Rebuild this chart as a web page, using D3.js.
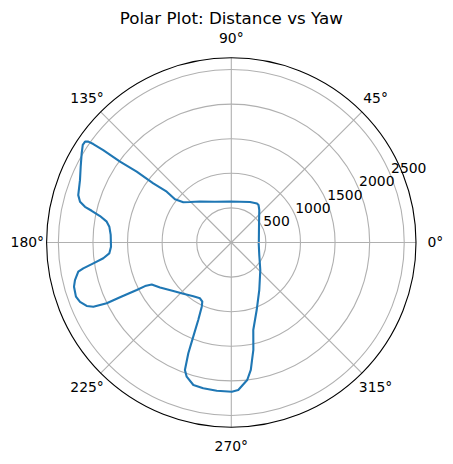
<!DOCTYPE html>
<html>
<head>
<meta charset="utf-8">
<script src="https://cdn.jsdelivr.net/npm/d3@7"></script>
<style>
  body { margin: 0; background: #fff; }
  svg text { font-family: "DejaVu Sans", sans-serif; }
</style>
</head>
<body>
<div id="chart"></div>
<script>
// yaw in degrees, distance in mm
let yaw = [1.0, 32.3, 49.3, 54.0, 56.6, 65.2, 78.0, 91.8, 111.8, 127.4, 135.6, 140.0,
  142.5, 141.8, 142.8, 143.2, 144.0, 144.2, 144.5, 144.8, 145.4, 146.7, 149.2, 153.3,
  157.6, 162.8, 164.9, 166.3, 167.2, 168.6, 170.5, 172.6, 176.4, 182.0, 185.1, 187.0,
  188.6, 189.9, 190.8, 193.5, 195.7, 199.2, 201.4, 203.7, 205.0, 206.0, 206.2, 206.7,
  206.8, 207.8, 212.3, 219.9, 226.9, 234.8, 240.7, 243.9, 245.3, 246.9, 248.0, 248.8,
  250.0, 251.6, 255.1, 259.1, 264.4, 270.2, 272.7, 276.6, 278.7, 280.0, 281.6, 284.1,
  290.6, 300.5, 316.5, 335.9, 359.0];
let distance = [398, 474, 620, 670, 675, 645, 603, 593, 635, 746, 836, 906,
  1026, 1188, 1416, 1708, 1988, 2283, 2451, 2529, 2568, 2569, 2518, 2437,
  2366, 2316, 2265, 2177, 2070, 1936, 1826, 1778, 1747, 1740, 1771, 1864,
  2017, 2172, 2252, 2324, 2362, 2378, 2349, 2283, 2200, 2004, 1793, 1530,
  1397, 1301, 1219, 1093, 1015, 952, 925, 953, 1022, 1218, 1468, 1718,
  1961, 2044, 2132, 2146, 2153, 2157, 2135, 2001, 1864, 1725, 1586, 1304,
  1043, 797, 578, 443, 396];

let rTicks = [500, 1000, 1500, 2000, 2500];
let thetaTicks = [0, 45, 90, 135, 180, 225, 270, 315];

let width = 453, height = 464;
let cx = 231.3, cy = 242.5, radius = 184.7;
let rad = Math.PI / 180;

let svg = d3.select("#chart")
    .append("svg")
    .attr("width", width)
    .attr("height", height);

svg.append("text")
    .attr("x", cx)
    .attr("y", 24)
    .style("text-anchor", "middle")
    .style("font-size", "16.7px")
    .text("Polar Plot: Distance vs Yaw");

let g = svg.append("g")
    .attr("transform", `translate(${cx},${cy})`);

let r = d3.scaleLinear()
    .domain([0, 2670])
    .range([0, radius]);

// circular grid
g.selectAll(".rgrid")
    .data(rTicks)
    .enter()
    .append("circle")
    .attr("r", d => r(d))
    .attr("fill", "none")
    .attr("stroke", "#b0b0b0")
    .attr("stroke-width", 1.1);

// spokes
g.selectAll(".tgrid")
    .data(thetaTicks)
    .enter()
    .append("line")
    .attr("x1", 0)
    .attr("y1", 0)
    .attr("x2", d => radius * Math.cos(d * rad))
    .attr("y2", d => -radius * Math.sin(d * rad))
    .attr("stroke", "#b0b0b0")
    .attr("stroke-width", 1.1);

// angle labels
g.selectAll(".tlabel")
    .data(thetaTicks)
    .enter()
    .append("text")
    .attr("x", d => 204 * Math.cos(d * rad))
    .attr("y", d => -204 * Math.sin(d * rad))
    .attr("dy", "0.35em")
    .style("text-anchor", "middle")
    .style("font-size", "13.9px")
    .text(d => d + "°");

// radial labels at 22.5 deg
g.selectAll(".rlabel")
    .data(rTicks)
    .enter()
    .append("text")
    .attr("x", d => r(d) * Math.cos(22.5 * rad))
    .attr("y", d => -r(d) * Math.sin(22.5 * rad) - 3.3)
    .style("text-anchor", "start")
    .style("font-size", "13.9px")
    .text(d => d);

let data = yaw.map((d, i) => ({yaw: d, dist: distance[i]}));

let line = d3.lineRadial()
    .angle(d => (90 - d.yaw) * rad)
    .radius(d => r(d.dist));

g.append("path")
    .datum(data)
    .attr("d", line)
    .attr("fill", "none")
    .attr("stroke", "#1f77b4")
    .attr("stroke-width", 2.1)
    .attr("stroke-linejoin", "round");

// outer frame
g.append("circle")
    .attr("r", radius)
    .attr("fill", "none")
    .attr("stroke", "#000")
    .attr("stroke-width", 1.1);
</script>
</body>
</html>
